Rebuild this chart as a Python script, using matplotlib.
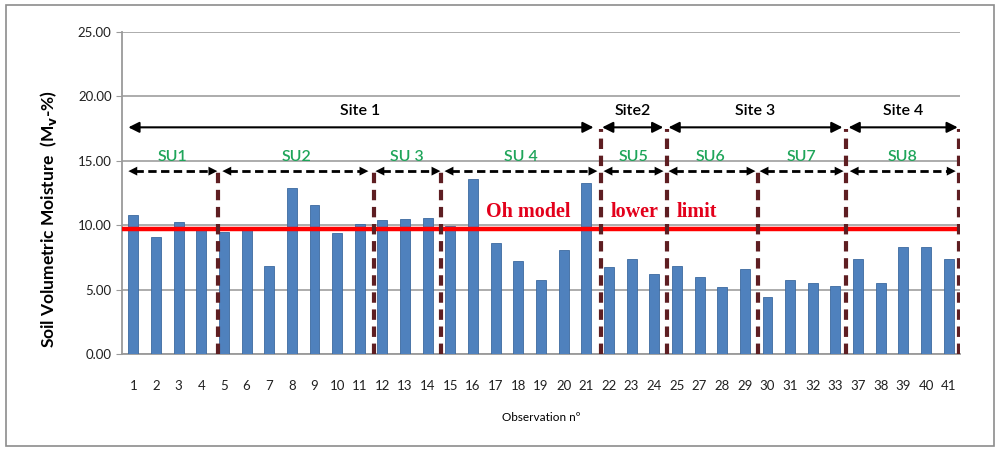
import matplotlib.pyplot as plt
from matplotlib.patches import Rectangle

# observation numbers and measured soil moisture (Mv %)
observations = ["1", "2", "3", "4", "5", "6", "7", "8", "9", "10", "11", "12",
                "13", "14", "15", "16", "17", "18", "19", "20", "21", "22", "23",
                "24", "25", "27", "28", "29", "30", "31", "32", "33", "37", "38",
                "39", "40", "41"]
moisture = [10.8, 9.06, 10.24, 9.65, 9.47, 9.65, 6.85, 12.9, 11.58, 9.37, 10.1,
            10.4, 10.5, 10.6, 9.93, 13.6, 8.6, 7.23, 5.71, 8.1, 13.3, 6.74, 7.41,
            6.18, 6.85, 5.97, 5.23, 6.64, 4.43, 5.71, 5.5, 5.28, 7.34, 5.5, 8.29,
            8.29, 7.34]
oh_lower_limit = 9.7

sites = ["Site 1", "Site2", "Site 3", "Site 4"]
units = ["SU1", "SU2", "SU 3", "SU 4", "SU5", "SU6", "SU7", "SU8"]

# layout of the annotations (in bar index units)
site_spans = [(-0.22, 20.32), (20.7, 23.4), (23.63, 31.31), (31.58, 36.4)]
site_text_x = [10.03, 22.04, 27.47, 33.97]
unit_spans = [(-0.22, 3.71), (3.93, 10.38), (10.69, 13.56), (13.74, 20.49),
              (20.76, 23.41), (23.63, 27.47), (27.65, 31.36), (31.63, 36.31)]
unit_text_x = [1.72, 7.2, 12.1, 17.1, 22.08, 25.5, 29.5, 33.97]
site_dividers = [20.64, 23.57, 31.45, 36.45]
unit_dividers = [3.75, 10.61, 13.6, 27.59]

fig = plt.figure(figsize=(10, 4.51), dpi=100)
ax = fig.add_axes([0.122, 0.215, 0.838, 0.714])

# outer frame around the whole chart
fig.patches.append(Rectangle((0.006, 0.012), 0.988, 0.976, transform=fig.transFigure,
                             fill=False, edgecolor="#8c8c8c", lw=1.2))

x = range(len(observations))
ax.bar(x, moisture, width=0.44, color="#4f81bd", edgecolor="#3c6aa0", lw=0.6, zorder=3)

ax.set_xlim(-0.5, len(observations) - 0.5)
ax.set_ylim(0, 25)
ax.set_yticks([0, 5, 10, 15, 20, 25])
ax.set_yticklabels(["%.2f" % v for v in [0, 5, 10, 15, 20, 25]], fontsize=9.5,
                   family="Lato", color="#202020")
ax.set_xticks(list(x))
ax.set_xticklabels(observations, fontsize=9.5, family="Lato", color="#202020")
ax.tick_params(axis="x", length=0, pad=19)
ax.tick_params(axis="y", length=4, color="#9a9a9a")
ax.grid(axis="y", color="#a6a6a6", lw=1.3, zorder=0)
for side in ["top", "right"]:
    ax.spines[side].set_visible(False)
ax.spines["left"].set_color("#9a9a9a")
ax.spines["left"].set_linewidth(1.3)
ax.spines["bottom"].set_color("#9a9a9a")
ax.spines["bottom"].set_linewidth(1.3)

ax.set_ylabel("Soil Volumetric Moisture  (M$_\\mathbf{v}$-%)", fontsize=12.5,
              fontweight="bold", family="Lato")
ax.yaxis.set_label_coords(-0.075, 0.42)
ax.set_xlabel("Observation nº", fontsize=8.5, family="Lato", labelpad=14)

# lower limit of the Oh model
ax.axhline(oh_lower_limit, color="#ff0000", lw=3.2, zorder=4)
for word, wx in zip(["Oh model", "lower", "limit"], [17.45, 22.13, 24.87]):
    ax.text(wx, 11.0, word, color="#e3001b", fontsize=14.5, fontweight="bold",
            family="Liberation Serif", ha="center", va="center", zorder=6)

# boundaries between sites and sampling units
for d in site_dividers:
    ax.plot([d, d], [0, 17.5], color="#5e1e22", lw=3, ls=(0, (2.5, 1.6)), zorder=5)
for d in unit_dividers:
    ax.plot([d, d], [0, 14.4], color="#5e1e22", lw=3, ls=(0, (2.5, 1.6)), zorder=5)

for (x0, x1), tx, name in zip(site_spans, site_text_x, sites):
    ax.annotate("", xy=(x1, 17.6), xytext=(x0, 17.6),
                arrowprops=dict(arrowstyle="<|-|>", color="black", lw=1.5,
                                mutation_scale=16, shrinkA=0, shrinkB=0), zorder=6)
    ax.text(tx, 18.9, name, fontsize=11.5, fontweight="semibold", family="Lato",
            ha="center", va="center")

for (x0, x1), tx, name in zip(unit_spans, unit_text_x, units):
    ax.plot([x0 + 0.3, x1 - 0.3], [14.2, 14.2], color="black", lw=2,
            ls=(0, (3, 1.6)), zorder=6)
    ax.annotate("", xy=(x1, 14.2), xytext=(x0, 14.2),
                arrowprops=dict(arrowstyle="<|-|>", color="black", lw=0,
                                mutation_scale=16, shrinkA=0, shrinkB=0), zorder=6)
    ax.text(tx, 15.3, name, fontsize=11.5, fontweight="semibold", family="Lato",
            color="#1fa55a", ha="center", va="center")

fig.savefig("out.png", dpi=100)
